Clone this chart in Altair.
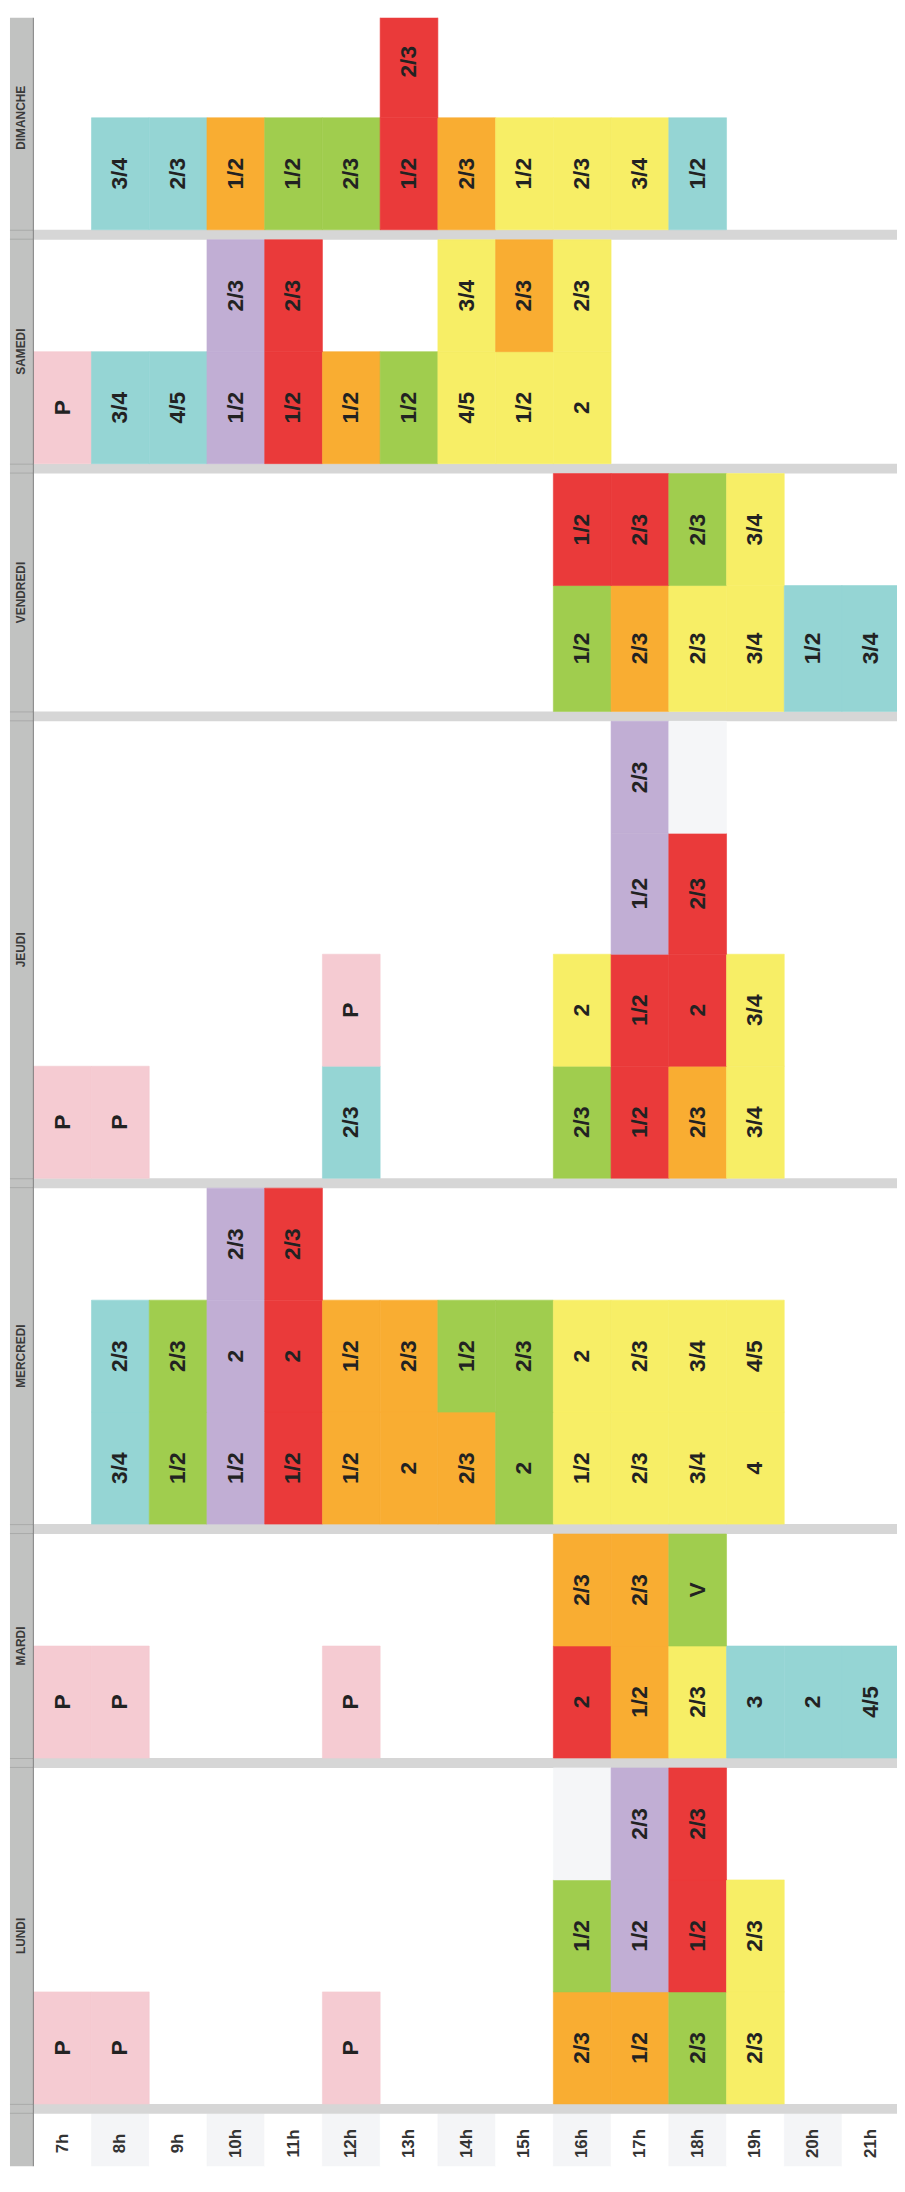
import altair as alt
import pandas as pd

# ---------------- data ----------------
DAYS = ["LUNDI", "MARDI", "MERCREDI", "JEUDI", "VENDREDI", "SAMEDI", "DIMANCHE"]  # bottom -> top
LANES_PER_DAY = [3, 2, 3, 4, 2, 2, 2]
HOURS = list(range(7, 22))
HOUR_LABELS = [f"{h}h" for h in HOURS]

# (lane from bottom, hour, label, category)
LUNDI = [
    (1, 7, "P", "rose"), (1, 8, "P", "rose"), (1, 12, "P", "rose"),
    (1, 16, "2/3", "orange"), (1, 17, "1/2", "orange"), (1, 18, "2/3", "vert"), (1, 19, "2/3", "jaune"),
    (2, 16, "1/2", "vert"), (2, 17, "1/2", "violet"), (2, 18, "1/2", "rouge"), (2, 19, "2/3", "jaune"),
    (3, 16, "", "gris"), (3, 17, "2/3", "violet"), (3, 18, "2/3", "rouge"),
]
MARDI = [
    (1, 7, "P", "rose"), (1, 8, "P", "rose"), (1, 12, "P", "rose"),
    (1, 16, "2", "rouge"), (1, 17, "1/2", "orange"), (1, 18, "2/3", "jaune"),
    (1, 19, "3", "bleu"), (1, 20, "2", "bleu"), (1, 21, "4/5", "bleu"),
    (2, 16, "2/3", "orange"), (2, 17, "2/3", "orange"), (2, 18, "V", "vert"),
]
MERCREDI = [
    (1, 8, "3/4", "bleu"), (1, 9, "1/2", "vert"), (1, 10, "1/2", "violet"), (1, 11, "1/2", "rouge"),
    (1, 12, "1/2", "orange"), (1, 13, "2", "orange"), (1, 14, "2/3", "orange"), (1, 15, "2", "vert"),
    (1, 16, "1/2", "jaune"), (1, 17, "2/3", "jaune"), (1, 18, "3/4", "jaune"), (1, 19, "4", "jaune"),
    (2, 8, "2/3", "bleu"), (2, 9, "2/3", "vert"), (2, 10, "2", "violet"), (2, 11, "2", "rouge"),
    (2, 12, "1/2", "orange"), (2, 13, "2/3", "orange"), (2, 14, "1/2", "vert"), (2, 15, "2/3", "vert"),
    (2, 16, "2", "jaune"), (2, 17, "2/3", "jaune"), (2, 18, "3/4", "jaune"), (2, 19, "4/5", "jaune"),
    (3, 10, "2/3", "violet"), (3, 11, "2/3", "rouge"),
]
JEUDI = [
    (1, 7, "P", "rose"), (1, 8, "P", "rose"), (1, 12, "2/3", "bleu"),
    (1, 16, "2/3", "vert"), (1, 17, "1/2", "rouge"), (1, 18, "2/3", "orange"), (1, 19, "3/4", "jaune"),
    (2, 12, "P", "rose"), (2, 16, "2", "jaune"), (2, 17, "1/2", "rouge"), (2, 18, "2", "rouge"), (2, 19, "3/4", "jaune"),
    (3, 17, "1/2", "violet"), (3, 18, "2/3", "rouge"),
    (4, 17, "2/3", "violet"), (4, 18, "", "gris"),
]
VENDREDI = [
    (1, 16, "1/2", "vert"), (1, 17, "2/3", "orange"), (1, 18, "2/3", "jaune"), (1, 19, "3/4", "jaune"),
    (1, 20, "1/2", "bleu"), (1, 21, "3/4", "bleu"),
    (2, 16, "1/2", "rouge"), (2, 17, "2/3", "rouge"), (2, 18, "2/3", "vert"), (2, 19, "3/4", "jaune"),
]
SAMEDI = [
    (1, 7, "P", "rose"), (1, 8, "3/4", "bleu"), (1, 9, "4/5", "bleu"), (1, 10, "1/2", "violet"),
    (1, 11, "1/2", "rouge"), (1, 12, "1/2", "orange"), (1, 13, "1/2", "vert"), (1, 14, "4/5", "jaune"),
    (1, 15, "1/2", "jaune"), (1, 16, "2", "jaune"),
    (2, 10, "2/3", "violet"), (2, 11, "2/3", "rouge"), (2, 14, "3/4", "jaune"),
    (2, 15, "2/3", "orange"), (2, 16, "2/3", "jaune"),
]
DIMANCHE = [
    (1, 8, "3/4", "bleu"), (1, 9, "2/3", "bleu"), (1, 10, "1/2", "orange"), (1, 11, "1/2", "vert"),
    (1, 12, "2/3", "vert"), (1, 13, "1/2", "rouge"), (1, 14, "2/3", "orange"), (1, 15, "1/2", "jaune"),
    (1, 16, "2/3", "jaune"), (1, 17, "3/4", "jaune"), (1, 18, "1/2", "bleu"),
    (2, 13, "2/3", "rouge"),
]
DAY_CELLS = [LUNDI, MARDI, MERCREDI, JEUDI, VENDREDI, SAMEDI, DIMANCHE]

# ---------------- styles / layout ----------------
COLORS = {
    "rose": "#f5cbd2", "bleu": "#95d5d4", "vert": "#a0cd4e", "violet": "#c1aed4",
    "rouge": "#ea3a3a", "orange": "#f9ad32", "jaune": "#f7ee66", "gris": "#f5f6f8",
}
FONT = "Liberation Sans"
TEXT_COLOR = "#222222"
LANE_H = 113.0
TALL_LANES = {("VENDREDI", 1): 127.0, ("JEUDI", 3): 122.0}
SEP_H = 10.0
HOUR_ROW_H = 60.0
BOTTOM = 2183.0
COL_X0 = 34.0      # px where 7h column starts
COL_W = 58.25      # px per hour
STRIP_PX = (10.0, 33.0)
LINE_PX = 33.5
W, H = 897, 2168
Y_MIN, Y_MAX = 8.0, 8.0 + H   # 1:1 with the reference page


def hx(px):
    return 7 + (px - COL_X0) / COL_W


X_MIN, X_MAX = hx(8.0), hx(8.0 + W)

# ---- compute lane geometry ----
y = BOTTOM - HOUR_ROW_H
hour_top = y
seps, sep_lines, lane_geo, day_rows = [], [], {}, []
for day, n in zip(DAYS, LANES_PER_DAY):
    seps.append({"x0": hx(COL_X0), "x1": X_MAX, "y0": y - SEP_H, "y1": y})
    for yy in (y - SEP_H + 0.5, y - 0.5):
        sep_lines.append({"x0": hx(STRIP_PX[0]), "x1": hx(STRIP_PX[1]), "y": yy})
    y -= SEP_H
    day_bottom = y
    for lane in range(1, n + 1):
        h = TALL_LANES.get((day, lane), LANE_H)
        lane_geo[(day, lane)] = (y - h, y)
        y -= h
    day_rows.append({"day": day, "xm": hx(sum(STRIP_PX) / 2), "ym": (y + day_bottom) / 2})

cell_rows = []
for day, cells in zip(DAYS, DAY_CELLS):
    for lane, hour, label, cat in cells:
        top, bot = lane_geo[(day, lane)]
        cell_rows.append({
            "x0": hour, "x1": hour + 1, "xm": hour + 0.5,
            "y0": top, "y1": bot, "ym": (top + bot) / 2,
            "label": label, "fill": COLORS[cat],
        })
cells_df = pd.DataFrame(cell_rows)
seps_df = pd.DataFrame(seps)
sep_lines_df = pd.DataFrame(sep_lines)
days_df = pd.DataFrame(day_rows)
hours_df = pd.DataFrame({
    "x0": HOURS, "x1": [h + 1 for h in HOURS], "xm": [h + 0.5 for h in HOURS],
    "y0": hour_top, "y1": BOTTOM, "ym": (hour_top + BOTTOM) / 2,
    "label": HOUR_LABELS,
    "fill": ["#f4f5f7" if h % 2 == 0 else "#ffffff" for h in HOURS],
})
strip_df = pd.DataFrame({"x0": [hx(STRIP_PX[0])], "x1": [hx(STRIP_PX[1])], "y0": [Y_MIN - 20], "y1": [BOTTOM],
                         "xl": [hx(LINE_PX)]})

XS = alt.Scale(domain=[X_MIN, X_MAX], nice=False, zero=False)
YS = alt.Scale(domain=[Y_MIN, Y_MAX], nice=False, zero=False, reverse=True)


def rect_layer(df, fill=None):
    enc = dict(
        x=alt.X("x0:Q", scale=XS, axis=None), x2="x1:Q",
        y=alt.Y("y0:Q", scale=YS, axis=None), y2="y1:Q",
    )
    if fill is None:
        enc["color"] = alt.Color("fill:N", scale=None)
        enc["stroke"] = alt.Stroke("fill:N", scale=None)
        return alt.Chart(df).mark_rect(clip=True, strokeWidth=0.6).encode(**enc)
    return alt.Chart(df).mark_rect(clip=True, color=fill).encode(**enc)


def text_layer(df, field, size, color=TEXT_COLOR):
    return alt.Chart(df).mark_text(
        angle=270, font=FONT, fontWeight="bold", fontSize=size, color=color,
        align="center", baseline="middle",
    ).encode(
        x=alt.X("xm:Q", scale=XS, axis=None),
        y=alt.Y("ym:Q", scale=YS, axis=None),
        text=f"{field}:N",
    )


strip = rect_layer(strip_df, fill="#c1c2c1")
hour_bg = rect_layer(hours_df)
sep_layer = rect_layer(seps_df, fill="#d6d6d6")
sep_line_layer = alt.Chart(sep_lines_df).mark_rule(color="#a9aaa9", strokeWidth=1, clip=True).encode(
    x=alt.X("x0:Q", scale=XS, axis=None), x2="x1:Q",
    y=alt.Y("y:Q", scale=YS, axis=None),
)
cell_layer = rect_layer(cells_df)
line = alt.Chart(strip_df).mark_rule(color="#6b6b6b", strokeWidth=1, clip=True).encode(
    x=alt.X("xl:Q", scale=XS, axis=None),
    y=alt.Y("y0:Q", scale=YS, axis=None), y2="y1:Q",
)
cell_text = text_layer(cells_df, "label", 23)
hour_text = text_layer(hours_df, "label", 17, "#333333")
day_text = text_layer(days_df, "day", 12, "#3a3a3a")

chart = alt.layer(
    strip, hour_bg, sep_layer, sep_line_layer, cell_layer, line, cell_text, hour_text, day_text
).properties(width=W, height=H, padding=0).configure_view(stroke=None)

chart.save("out.html", embed_options={"renderer": "svg", "actions": False})
